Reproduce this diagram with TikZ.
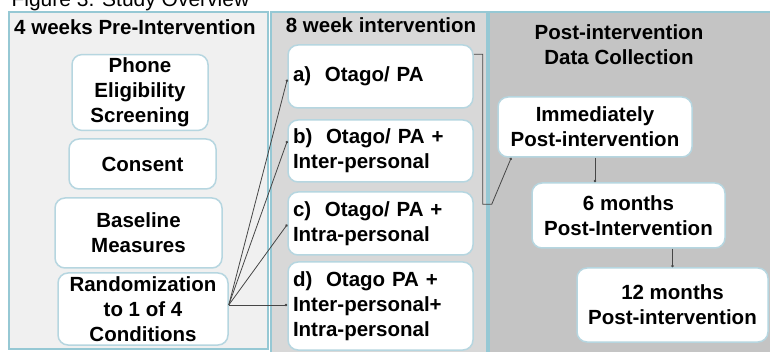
\documentclass[tikz,border=0pt]{standalone}
\usepackage{fontspec}
\setmainfont{Liberation Sans}
\usepackage{tikz}
\usetikzlibrary{arrows.meta, positioning, calc}
\definecolor{panelblue}{RGB}{150,200,212}
\definecolor{boxblue}{RGB}{182,214,224}
\definecolor{paneleft}{RGB}{240,240,240}
\definecolor{panelmid}{RGB}{216,216,216}
\definecolor{panelright}{RGB}{196,196,196}
\definecolor{linegray}{RGB}{70,70,70}

\begin{document}
\begin{tikzpicture}[x=1pt, y=-1pt,
    every node/.style={font=\bfseries\fontsize{20.5}{25}\selectfont},
    panel/.style={draw=panelblue, line width=1.5pt},
    stage/.style={draw=boxblue, fill=white, line width=1.5pt, rounded corners=10pt, align=center},
    arm/.style={stage, align=left, text width=175pt, inner xsep=5pt, minimum height=#1},
    link/.style={draw=linegray, line width=0.8pt, -{Circle[length=2.5pt]}}]
    \useasboundingbox (0,0) rectangle (770,352);
    % panels
    \draw[panel, fill=paneleft] (9,12) rectangle (268,349);
    \draw[panel, fill=panelmid] (271,12) rectangle (487,356);
    \draw[panel, fill=panelright] (489,12) rectangle (772,356);
    \node[anchor=base west, font=\fontsize{21}{25}\selectfont] (fig) at (8,7) {Figure 3. Study Overview};
    \node (pretitle) at (135,27) {4 weeks Pre-Intervention};
    \node (midtitle) at (381,25) {8 week intervention};
    \node[align=center] (posttitle) at (619,45) {Post-intervention\\Data Collection};
    % pre-intervention
    \node[stage, minimum width=136pt, minimum height=75pt] (phone) at (140,92.5) {Phone\\Eligibility\\Screening};
    \node[stage, minimum width=147pt, minimum height=50pt] (consent) at (142.5,164) {Consent};
    \node[stage, minimum width=167pt, minimum height=70pt] (baseline) at (138.5,233) {Baseline\\Measures};
    \node[stage, minimum width=170pt, minimum height=72pt] (rand) at (143,309) {Randomization\\to 1 of 4\\Conditions};
    % conditions
    \node[arm=63pt] (a) at (380.5,76.5) {a)\ \ Otago/ PA};
    \node[arm=62pt] (b) at (380.5,151) {b)\ \ Otago/ PA +\\Inter-personal};
    \node[arm=63pt] (c) at (380.5,223.5) {c)\ \ Otago/ PA +\\Intra-personal};
    \node[arm=88pt] (d) at (380.5,306) {d)\ \ Otago PA +\\Inter-personal+\\Intra-personal};
    % follow-up
    \node[stage, minimum width=194pt, minimum height=60pt] (imm) at (595,127) {Immediately\\Post-intervention};
    \node[stage, minimum width=193pt, minimum height=65pt] (six) at (628.5,215.5) {6 months\\Post-Intervention};
    \node[stage, minimum width=191pt, minimum height=74pt] (twelve) at (672.5,305) {12 months\\Post-intervention};
    % connectors
    \coordinate (rsrc) at ([yshift=4pt]rand.east);
    \draw[link] (rsrc) -- ([yshift=-3pt]a.west);
    \draw[link] (rsrc) -- ([yshift=10pt]b.west);
    \draw[link] (rsrc) -- ([yshift=-1pt]c.west);
    \draw[link] (rsrc) -- (rsrc -| d.west);
    \draw[link] ([yshift=-10pt]a.north east) -- ++(9,0) -- ++(0,150) -- ++(9,0) -- ([xshift=14pt]imm.south west);
    \draw[link] (imm.south) -- (imm.south |- six.north);
    \draw[link] (six.south -| twelve.north) -- (twelve.north);
\end{tikzpicture}
\end{document}
